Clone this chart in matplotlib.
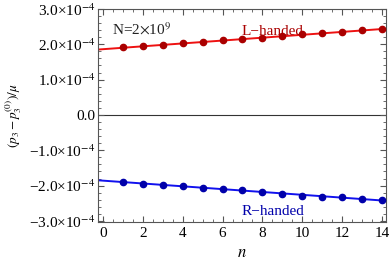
import matplotlib
matplotlib.use("Agg")
import matplotlib.pyplot as plt
from matplotlib.ticker import MultipleLocator

plt.rcParams['font.family'] = ['Liberation Serif', 'DejaVu Serif']
plt.rcParams['mathtext.fontset'] = 'stix'

n = [1, 2, 3, 4, 5, 6, 7, 8, 9, 10, 11, 12, 13, 14]
left_vals = [1.927, 1.955, 1.992, 2.028, 2.067, 2.112, 2.151, 2.187, 2.243, 2.299, 2.327, 2.335, 2.391, 2.430]
right_vals = [-1.911, -1.947, -1.983, -2.011, -2.059, -2.106, -2.134, -2.179, -2.226, -2.282, -2.318, -2.330, -2.385, -2.413]
line_n = [-0.25, 14.2]
left_line = [1.85, 2.44]
right_line = [-1.85, -2.43]
scale = 1e-4

yticks = [-3, -2, -1, 0, 1, 2, 3]
ytick_labels = ['\u22123.0\u00d710$^{\u22124}$', '\u22122.0\u00d710$^{\u22124}$', '\u22121.0\u00d710$^{\u22124}$', '0.0',
                '1.0\u00d710$^{\u22124}$', '2.0\u00d710$^{\u22124}$', '3.0\u00d710$^{\u22124}$']

fig = plt.figure(figsize=(3.9, 2.63), dpi=100)
ax = fig.add_axes([0.251, 0.156, 0.739, 0.810])

ax.plot(line_n, [v * scale for v in left_line], color='#ee1111', lw=1.4, zorder=2)
ax.plot(line_n, [v * scale for v in right_line], color='#1111ee', lw=1.4, zorder=2)
ax.plot(n, [v * scale for v in left_vals], 'o', color='#aa0000', ms=4.5, zorder=3)
ax.plot(n, [v * scale for v in right_vals], 'o', color='#0000aa', ms=4.5, zorder=3)
ax.axhline(0, color='#333333', lw=0.8, zorder=1)

ax.set_xlim(-0.25, 14.2)
ax.set_ylim(-3.03e-4, 3.0e-4)
ax.set_yticks([t * scale for t in yticks])
ax.set_yticklabels(ytick_labels)
ax.yaxis.set_minor_locator(MultipleLocator(0.2e-4))
ax.xaxis.set_major_locator(MultipleLocator(2))
ax.xaxis.set_minor_locator(MultipleLocator(0.5))

ax.tick_params(which='both', direction='in', top=True, right=True, color='#555555')
ax.tick_params(axis='y', labelsize=11, pad=2)
ax.tick_params(axis='x', labelsize=11)
ax.tick_params(which='major', length=4)
ax.tick_params(which='minor', length=2)
for s in ax.spines.values():
    s.set_color('#555555')

ax.set_xlabel(r'$n$', fontsize=12, labelpad=4)
ax.set_ylabel(r'$(p_3-p_3^{(0)})/\mu$', fontsize=9.5)
ax.yaxis.set_label_coords(-0.258, 0.5)

ax.text(0.05, 0.88, r'N=2$\times$10$^{9}$', transform=ax.transAxes, fontsize=11, color='#222222')
ax.text(0.50, 0.88, 'L\u2212handed', transform=ax.transAxes, fontsize=11, color='#aa0000')
ax.text(0.50, 0.035, 'R\u2212handed', transform=ax.transAxes, fontsize=11, color='#0000aa')

fig.savefig('out.png', dpi=100)
